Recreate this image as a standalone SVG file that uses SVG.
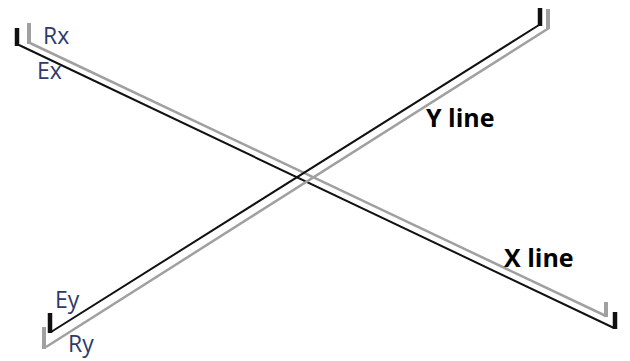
<svg xmlns="http://www.w3.org/2000/svg" width="630" height="361" viewBox="0 0 630 361">
<style>
.blk{stroke:#111;stroke-width:2;fill:none;stroke-linejoin:miter}
.gry{stroke:#a0a0a0;stroke-width:2.5;fill:none}
.bbar{stroke:#111;stroke-width:4.5;stroke-linecap:butt}
.gbar{stroke:#a0a0a0;stroke-width:4;stroke-linecap:butt}
.lbl{font-family:"Open Sans","Noto Sans",sans-serif;font-size:23px;fill:#2e3a6c}
.ttl{font-family:"Open Sans","Noto Sans",sans-serif;font-size:25px;font-weight:bold;fill:#000}
</style>
<rect width="630" height="361" fill="#fff"/>
<g id="connectors">
<g id="x-line">
<line class="gry" x1="30" y1="43" x2="606" y2="316"/>
<line class="blk" x1="19" y1="45" x2="614" y2="328"/>
</g>
<g id="y-line">
<line class="gry" x1="46" y1="347" x2="549" y2="28"/>
<line class="blk" x1="51" y1="332" x2="539" y2="25"/>
</g>
</g>
<g id="ends">
<line class="bbar" x1="17" y1="28" x2="17" y2="46"/>
<line class="gbar" x1="29" y1="23" x2="29" y2="44"/>
<line class="bbar" x1="615" y1="312" x2="615" y2="329"/>
<line class="gbar" x1="606" y1="302" x2="606" y2="317"/>
<line class="bbar" x1="540" y1="8" x2="540" y2="26"/>
<line class="gbar" x1="548" y1="9" x2="548" y2="29"/>
<line class="bbar" x1="50" y1="313" x2="50" y2="333"/>
<line class="gbar" x1="44" y1="327" x2="44" y2="349"/>
</g>
<g id="labels">
<text class="lbl" x="43" y="44">Rx</text>
<text class="lbl" x="37" y="79">Ex</text>
<text class="lbl" x="55" y="308">Ey</text>
<text class="lbl" x="68" y="352">Ry</text>
<text class="ttl" x="426" y="127">Y line</text>
<text class="ttl" x="504" y="267">X line</text>
</g>
</svg>
